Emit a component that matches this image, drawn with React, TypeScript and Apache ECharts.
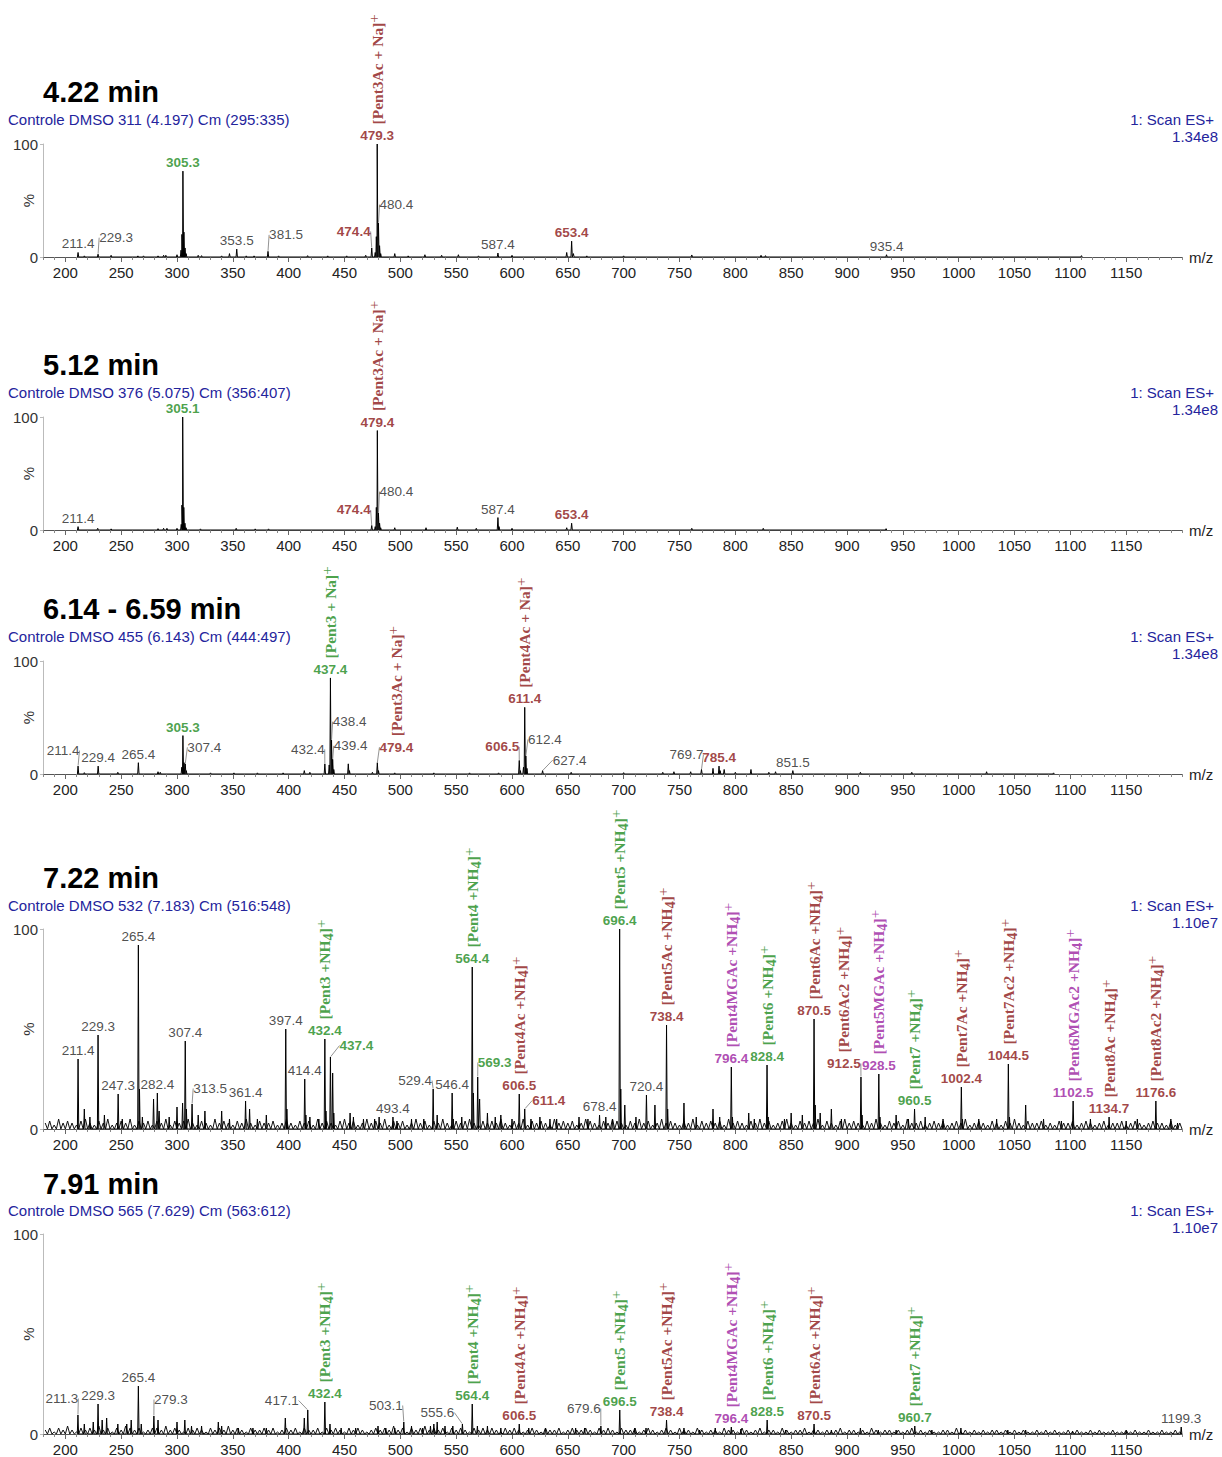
import React, { useEffect, useRef } from 'react';
import * as echarts from 'echarts';

const X_MIN = 180;
const X_MAX = 1200;
const X_LABELS = [200, 250, 300, 350, 400, 450, 500, 550, 600, 650, 700, 750, 800, 850, 900, 950, 1000, 1050, 1100, 1150];

const TITLES = ['4.22 min', '5.12 min', '6.14 - 6.59 min', '7.22 min', '7.91 min'];
const RUNS = [
  'Controle DMSO 311 (4.197) Cm (295:335)',
  'Controle DMSO 376 (5.075) Cm (356:407)',
  'Controle DMSO 455 (6.143) Cm (444:497)',
  'Controle DMSO 532 (7.183) Cm (516:548)',
  'Controle DMSO 565 (7.629) Cm (563:612)',
];
const SCAN = '1: Scan ES+';
const TICS = ['1.34e8', '1.34e8', '1.34e8', '1.10e7', '1.10e7'];

// [m/z, relative intensity %]
const peaks1: [number, number][] = [
  [211.4, 4], [217, 1], [229.3, 2.5], [241, 1.5], [265, 1], [270, 1], [283, 1], [288, 1.5], [290, 1.5], [300, 2],
  [303.6, 6], [304.4, 20], [305.3, 76], [306.2, 22], [307.2, 8], [308.2, 3], [319, 1.5], [322, 1.2], [340, 1],
  [347, 3], [353.5, 7], [362, 1], [369, 1], [381.5, 5], [391, 1], [417, 1.2], [435, 1], [452, 1], [469, 1.5],
  [474.4, 8], [477.5, 4], [478.5, 18], [479.3, 100], [480.4, 30], [481.4, 10], [482.4, 3], [495, 3], [507, 1],
  [522, 2], [537, 1.5], [552, 2], [570, 1], [587.4, 3.5], [600, 1.5], [649, 4], [653.4, 14], [655, 3], [667, 1],
  [700, 1], [761, 1.8], [823, 1.5], [827, 1.2], [935.4, 2], [1110, 1.2],
];
const peaks2: [number, number][] = [
  [211.4, 3], [229, 1.5], [241, 1], [283, 1.2], [288, 1.5], [291, 1.5], [300, 1.5], [303.8, 5], [304.4, 22],
  [305.1, 100], [306.1, 20], [307.1, 6], [308.1, 2], [321, 1], [353, 1.5], [370, 1], [382, 1], [474.4, 4],
  [477.5, 3], [478.5, 20], [479.4, 88], [480.4, 15], [481.4, 6], [482.4, 2], [495, 2], [523, 2], [551, 2.5],
  [568, 1.5], [587.4, 11], [588.4, 3], [600, 1.5], [649, 2], [653.4, 6], [761, 1.5], [825, 1.5], [935, 1.2],
];
const peaks3: [number, number][] = [
  [211.4, 7], [217, 1.2], [229.4, 7], [247, 1.5], [265.4, 10], [283, 2], [285, 1.5], [304.3, 6], [305.3, 34],
  [306.3, 10], [307.4, 9], [308.3, 3], [330, 1], [351, 1], [372, 1], [395, 1], [414, 3], [419, 1.5], [432.4, 9],
  [436.3, 8], [437.4, 85], [438.4, 30], [439.4, 13], [440.4, 4], [453.4, 9], [454.4, 3], [475, 1.5], [479.4, 10],
  [480.4, 3], [495, 1], [530, 1], [562, 1], [588, 1], [606.5, 12], [607.5, 3], [610.3, 6], [611.4, 59],
  [612.4, 16], [613.4, 5], [627.4, 3], [653, 1.5], [700, 1.2], [735, 1.5], [745, 2], [760, 2], [769.7, 4],
  [780, 5], [785.4, 7], [786.4, 3], [790, 4], [800, 1.5], [814, 4], [830, 1.5], [836, 2], [851.5, 3], [912, 1.5],
  [958, 1.5], [1025, 2], [1085, 1],
];
const peaks4: [number, number][] = [
  [211.4, 35], [217, 10], [222, 6], [229.3, 47], [235, 7], [247.3, 17.5], [251, 5], [265.4, 92], [266.4, 20],
  [269, 6], [279, 15], [282.4, 18], [284, 9], [293, 6], [300, 11], [305, 13], [307.4, 44], [308.4, 10],
  [313.5, 12.5], [319, 7], [325, 9], [340, 9], [347, 5], [361.4, 14], [365, 10], [372, 5], [380, 7], [397.4, 50],
  [398.4, 10], [414.4, 25], [415.4, 7], [419, 6], [427, 5], [432.4, 45], [433.4, 9], [437.4, 36], [439.4, 28],
  [440.4, 8], [455, 8], [458, 6], [467, 5], [477, 5], [481, 6], [493.4, 6], [497, 4], [510, 5], [521, 5],
  [529.4, 20], [533, 7], [546.4, 18], [547.4, 5], [555, 6], [564.4, 81], [565.4, 18], [569.3, 26], [571, 15],
  [578, 8], [585, 6], [590, 7], [600, 5], [606.5, 17.5], [611.4, 10], [617, 5], [625, 6], [634, 5], [640, 5],
  [660, 6], [668, 5], [678.4, 7], [684, 6], [690, 5], [696.4, 100], [697.4, 20], [701, 12], [711, 6], [720.4, 17],
  [728, 12], [738.4, 52], [739.4, 10], [754, 13], [765, 6], [780, 10], [786, 6], [796.4, 31], [797.4, 6], [812, 8],
  [817, 5], [828.4, 32], [829.4, 6], [844, 5], [850, 8], [860, 7], [870.5, 55], [871.5, 12], [876, 8], [886, 10],
  [895, 5], [912.5, 26], [913.5, 7], [928.5, 27.5], [929.5, 6], [944, 7], [955, 5], [960.5, 10], [970, 6],
  [986, 5], [1002.4, 21], [1003.4, 5], [1018, 5], [1034, 5], [1044.5, 32.5], [1045.5, 6], [1060, 12], [1076, 5],
  [1092, 4], [1102.5, 14], [1118, 5], [1134.7, 6], [1150, 4], [1160, 5], [1176.6, 14], [1190, 5], [1196, 3],
];
const peaks5: [number, number][] = [
  [211.3, 9.5], [217, 5], [225, 6], [229.3, 15], [233, 7], [237, 8], [247, 5], [255, 5], [259, 7], [265.4, 24],
  [268, 5], [279.3, 9], [283, 7], [300, 6], [307, 7], [313, 4], [322, 4], [337, 6], [340, 4], [355, 3], [368, 3],
  [380, 3], [397, 8], [414, 8], [417.1, 12], [432.4, 16], [437, 5], [447, 3], [460, 3], [480, 4], [487, 3],
  [495, 3], [503.1, 6], [510, 4], [520, 3], [527, 4], [530, 5], [533, 6], [540, 4], [547, 4], [555.6, 5],
  [564.4, 15], [569, 4], [578, 4], [590, 3], [606.5, 5], [615, 3], [630, 3], [657, 3], [665, 3], [679.6, 4],
  [696.5, 12], [710, 3], [720, 3], [738.4, 7], [754, 3], [768, 2], [782, 3], [796.4, 3.5], [805, 2.5], [828.5, 7],
  [845, 2], [870.5, 5], [886, 2], [912, 3], [928, 2], [944, 2], [960.7, 4], [976, 2], [1002, 3], [1044, 2],
  [1060, 2], [1102, 1.5], [1150, 1.5], [1199.3, 3.5],
];

// baseline grass (every 4 m/z from 182), % intensity
const NOISE_START = 182;
const NOISE_STEP = 4;
const noise4: number[] = [
  3, 4, 2, 5, 3, 4, 3, 2, 4, 5, 3, 2, 4, 3, 5, 2, 3, 4, 3, 5, 2, 4, 3, 4, 2,
  4, 3, 5, 2, 4, 3, 4, 5, 3, 2, 4, 3, 2, 5, 3, 4, 3, 2, 4, 3, 5, 3, 2, 4, 3,
  3, 4, 2, 3, 5, 3, 2, 4, 3, 4, 2, 5, 3, 4, 3, 2, 4, 5, 3, 4, 2, 3, 5, 3, 4,
  3, 5, 2, 4, 3, 4, 2, 3, 5, 3, 4, 2, 4, 3, 5, 3, 2, 4, 3, 4, 5, 3, 2, 4, 3,
  4, 3, 5, 3, 2, 4, 3, 5, 2, 4, 3, 4, 3, 2, 5, 3, 4, 3, 4, 2, 3, 5, 4, 3, 2,
  4, 3, 5, 4, 3, 2, 4, 3, 5, 3, 4, 2, 3, 5, 3, 4, 3, 2, 4, 3, 5, 2, 4, 3, 4,
  3, 4, 2, 5, 3, 4, 3, 2, 4, 3, 5, 3, 4, 2, 3, 4, 5, 3, 2, 4, 3, 4, 3, 5, 2,
  4, 3, 2, 4, 5, 3, 4, 3, 2, 4, 3, 5, 3, 2, 4, 3, 4, 2, 5, 3, 3, 4, 2, 3, 4,
  3, 4, 2, 3, 4, 3, 5, 2, 3, 4, 3, 2, 4, 3, 2, 4, 3, 5, 3, 2, 4, 3, 3, 4, 2,
  3, 2, 4, 3, 3, 4, 2, 3, 4, 3, 2, 3, 4, 2, 3, 3, 4, 2, 3, 4, 3, 2, 3, 4, 3,
  3, 2, 4, 2, 3,
];
const noise5: number[] = [
  2, 3, 1, 3, 2, 4, 2, 1, 3, 2, 3, 2, 4, 2, 3, 1, 3, 2, 4, 3, 2, 3, 1, 2, 3,
  3, 2, 4, 2, 3, 2, 1, 3, 2, 3, 2, 1, 3, 2, 3, 2, 4, 2, 3, 2, 1, 3, 2, 2, 3,
  2, 3, 1, 2, 3, 2, 3, 1, 3, 2, 2, 3, 1, 3, 2, 3, 2, 1, 3, 2, 3, 2, 1, 2, 3,
  2, 3, 2, 4, 2, 3, 1, 3, 2, 3, 4, 2, 3, 2, 3, 1, 3, 2, 3, 2, 1, 3, 2, 3, 2,
  3, 2, 1, 3, 2, 3, 2, 1, 2, 3, 2, 1, 3, 2, 2, 3, 1, 2, 3, 2, 2, 3, 2, 1, 3,
  2, 3, 2, 1, 3, 2, 2, 3, 1, 2, 3, 2, 1, 2, 3, 2, 1, 3, 2, 2, 1, 3, 2, 1, 2,
  2, 1, 3, 2, 2, 1, 3, 2, 1, 2, 3, 1, 2, 2, 1, 3, 2, 1, 2, 2, 3, 1, 2, 2, 1,
  2, 1, 2, 3, 1, 2, 2, 1, 2, 1, 3, 2, 1, 2, 2, 1, 2, 1, 2, 3, 1, 2, 1, 2, 1,
  1, 2, 2, 1, 3, 1, 2, 1, 2, 1, 2, 1, 2, 2, 1, 2, 1, 2, 1, 2, 1, 1, 2, 1, 2,
  1, 2, 1, 1, 2, 1, 2, 1, 1, 2, 1, 2, 1, 1, 2, 1, 1, 2, 1, 2, 1, 1, 2, 1, 1,
  2, 1, 1, 2, 1,
];

// [m/z, intensity, text, colour kind, annotation]
type Lab = [number, number, string, string, string?];
const labels1: Lab[] = [
  [211.4, 4, '211.4', 'k'], [229.3, 2.5, '229.3', 'k'], [305.3, 76, '305.3', 'g'], [353.5, 7, '353.5', 'k'],
  [381.5, 5, '381.5', 'k'], [474.4, 8, '474.4', 'r'], [479.3, 100, '479.3', 'r', 'Pent3Ac + Na'],
  [480.4, 30, '480.4', 'k'], [587.4, 3.5, '587.4', 'k'], [653.4, 14, '653.4', 'r'], [935.4, 2, '935.4', 'k'],
];
const labels2: Lab[] = [
  [211.4, 3, '211.4', 'k'], [305.1, 100, '305.1', 'g'], [474.4, 4, '474.4', 'r'],
  [479.4, 88, '479.4', 'r', 'Pent3Ac + Na'], [480.4, 15, '480.4', 'k'], [587.4, 11, '587.4', 'k'],
  [653.4, 6, '653.4', 'r'],
];
const labels3: Lab[] = [
  [211.4, 7, '211.4', 'k'], [229.4, 7, '229.4', 'k'], [265.4, 10, '265.4', 'k'], [305.3, 34, '305.3', 'g'],
  [307.4, 9, '307.4', 'k'], [432.4, 9, '432.4', 'k'], [437.4, 85, '437.4', 'g', 'Pent3 + Na'],
  [438.4, 30, '438.4', 'k'], [439.4, 13, '439.4', 'k'], [479.4, 10, '479.4', 'r', 'Pent3Ac + Na'],
  [606.5, 12, '606.5', 'r'], [611.4, 59, '611.4', 'r', 'Pent4Ac + Na'], [612.4, 16, '612.4', 'k'],
  [627.4, 3, '627.4', 'k'], [769.7, 4, '769.7', 'k'], [785.4, 7, '785.4', 'r'], [851.5, 3, '851.5', 'k'],
];
const labels4: Lab[] = [
  [211.4, 35, '211.4', 'k'], [229.3, 47, '229.3', 'k'], [247.3, 17.5, '247.3', 'k'], [265.4, 92, '265.4', 'k'],
  [282.4, 18, '282.4', 'k'], [307.4, 44, '307.4', 'k'], [313.5, 12.5, '313.5', 'k'], [361.4, 14, '361.4', 'k'],
  [397.4, 50, '397.4', 'k'], [414.4, 25, '414.4', 'k'], [432.4, 45, '432.4', 'g', 'Pent3 +NH4'],
  [437.4, 36, '437.4', 'g'], [493.4, 6, '493.4', 'k'], [529.4, 20, '529.4', 'k'], [546.4, 18, '546.4', 'k'],
  [564.4, 81, '564.4', 'g', 'Pent4 +NH4'], [569.3, 26, '569.3', 'g'], [606.5, 17.5, '606.5', 'r', 'Pent4Ac +NH4'],
  [611.4, 10, '611.4', 'r'], [678.4, 7, '678.4', 'k'], [696.4, 100, '696.4', 'g', 'Pent5 +NH4'],
  [720.4, 17, '720.4', 'k'], [738.4, 52, '738.4', 'r', 'Pent5Ac +NH4'], [796.4, 31, '796.4', 'p', 'Pent4MGAc +NH4'],
  [828.4, 32, '828.4', 'g', 'Pent6 +NH4'], [870.5, 55, '870.5', 'r', 'Pent6Ac +NH4'],
  [912.5, 26, '912.5', 'r', 'Pent6Ac2 +NH4'], [928.5, 27.5, '928.5', 'p', 'Pent5MGAc +NH4'],
  [960.5, 10, '960.5', 'g', 'Pent7 +NH4'], [1002.4, 21, '1002.4', 'r', 'Pent7Ac +NH4'],
  [1044.5, 32.5, '1044.5', 'r', 'Pent7Ac2 +NH4'], [1102.5, 14, '1102.5', 'p', 'Pent6MGAc2 +NH4'],
  [1134.7, 6, '1134.7', 'r', 'Pent8Ac +NH4'], [1176.6, 14, '1176.6', 'r', 'Pent8Ac2 +NH4'],
];
const labels5: Lab[] = [
  [211.3, 9.5, '211.3', 'k'], [229.3, 15, '229.3', 'k'], [265.4, 24, '265.4', 'k'], [279.3, 9, '279.3', 'k'],
  [417.1, 12, '417.1', 'k'], [432.4, 16, '432.4', 'g', 'Pent3 +NH4'], [503.1, 6, '503.1', 'k'],
  [555.6, 5, '555.6', 'k'], [564.4, 15, '564.4', 'g', 'Pent4 +NH4'], [606.5, 5, '606.5', 'r', 'Pent4Ac +NH4'],
  [679.6, 4, '679.6', 'k'], [696.5, 12, '696.5', 'g', 'Pent5 +NH4'], [738.4, 7, '738.4', 'r', 'Pent5Ac +NH4'],
  [796.4, 3.5, '796.4', 'p', 'Pent4MGAc +NH4'], [828.5, 7, '828.5', 'g', 'Pent6 +NH4'],
  [870.5, 5, '870.5', 'r', 'Pent6Ac +NH4'], [960.7, 4, '960.7', 'g', 'Pent7 +NH4'], [1199.3, 3.5, '1199.3', 'k'],
];

// label displacements (px, screen) for labels drawn beside their peak with a leader line
const offsets1: Record<string, [number, number]> = { '229.3': [18, -8], '381.5': [18, -8], '474.4': [-18, -8], '480.4': [18, -10] };
const offsets2: Record<string, [number, number]> = { '474.4': [-18, -7], '480.4': [18, -13] };
const offsets3: Record<string, [number, number]> = {
  '211.4': [-15, -7], '307.4': [19, -8], '432.4': [-17, -6], '438.4': [18, -10], '439.4': [18, -5],
  '479.4': [19, -7], '606.5': [-17, -5], '612.4': [19, -8], '627.4': [27, -2], '769.7': [-15, -6],
};
const offsets4: Record<string, [number, number]> = {
  '313.5': [18, -7], '437.4': [26, -3], '529.4': [-18, 0], '569.3': [17, -6], '611.4': [24, 0], '912.5': [-17, -5],
};
const offsets5: Record<string, [number, number]> = {
  '211.3': [-16, -8], '279.3': [17, -8], '417.1': [-26, -1], '503.1': [-18, -8], '555.6': [-25, -3], '679.6': [-17, -9],
};

const PEAKS = [peaks1, peaks2, peaks3, peaks4, peaks5];
const NOISE: (number[] | null)[] = [null, null, null, noise4, noise5];
const LABELS = [labels1, labels2, labels3, labels4, labels5];
const OFFSETS = [offsets1, offsets2, offsets3, offsets4, offsets5];

const LAYOUT = [
  { top: 144, height: 113, titleY: 92, subY: 119 },
  { top: 417, height: 113, titleY: 365, subY: 392 },
  { top: 661, height: 113, titleY: 609, subY: 636 },
  { top: 929, height: 200, titleY: 878, subY: 905 },
  { top: 1234, height: 200, titleY: 1184, subY: 1210 },
];

const SANS = "'Liberation Sans', Arial, sans-serif";
const SERIF = "'Liberation Serif', 'Times New Roman', serif";
const COLORS: Record<string, string> = { k: '#222222', g: '#1c8a1c', r: '#8a1515', p: '#9a20a0' };
const BLUE = '#24249c';

function annText(ann: string): string {
  const m = ann.match(/^(.*)NH4$/);
  if (m) return `{n|[${m[1]}NH}{u|4}{n|]}{s|+}`;
  return `{n|[${ann}]}{s|+}`;
}

function annRich(color: string) {
  return {
    n: { fontFamily: SERIF, fontWeight: 'bold', fontSize: 15.5, color, lineHeight: 22, verticalAlign: 'middle' },
    u: { fontFamily: SERIF, fontWeight: 'bold', fontSize: 14.5, color, lineHeight: 16, verticalAlign: 'bottom' },
    s: { fontFamily: SERIF, fontSize: 15, color, lineHeight: 10, verticalAlign: 'top' },
  };
}

function buildOption() {
  const grid: any[] = [];
  const xAxis: any[] = [];
  const yAxis: any[] = [];
  const series: any[] = [];
  const graphic: any[] = [];

  LAYOUT.forEach((l, i) => {
    grid.push({ left: 43, right: 40, top: l.top, height: l.height, containLabel: false, outerBoundsMode: 'none' });
    xAxis.push({
      gridIndex: i, type: 'value', min: X_MIN, max: X_MAX, interval: 10,
      axisLine: { show: true, onZero: false, lineStyle: { color: '#555', width: 1 } },
      axisTick: { show: true, length: 3, lineStyle: { color: '#888' } },
      axisLabel: {
        formatter: (v: number) => (X_LABELS.indexOf(v) >= 0 ? String(v) : ''),
        fontSize: 15, color: '#222', margin: 8, fontFamily: SANS,
      },
      splitLine: { show: false },
      name: 'm/z', nameLocation: 'end', nameGap: 7, nameMoveOverlap: false,
      nameTextStyle: { fontSize: 15, color: '#222', fontFamily: SANS },
    });
    xAxis.push({
      gridIndex: i, type: 'value', min: X_MIN, max: X_MAX, position: 'bottom',
      axisLine: { show: false },
      axisTick: { show: true, length: 5, customValues: X_LABELS, lineStyle: { color: '#666' } },
      axisLabel: { show: false },
      splitLine: { show: false },
    });
    yAxis.push({
      gridIndex: i, type: 'value', min: 0, max: 100, interval: 100,
      axisLine: { show: true, lineStyle: { color: '#bbbbbb' } },
      axisTick: { show: true, length: 3, lineStyle: { color: '#bbbbbb' } },
      axisLabel: { fontSize: 15, color: '#333', margin: 5, fontFamily: SANS },
      splitLine: { show: false },
      name: '%', nameLocation: 'middle', nameGap: 7, nameRotate: 90, nameMoveOverlap: false,
      nameTextStyle: { fontSize: 15, color: '#333', fontFamily: SANS },
    });

    const noise = NOISE[i];
    if (noise) {
      const pts: [number, number][] = [];
      noise.forEach((h, k) => {
        const x = NOISE_START + k * NOISE_STEP;
        pts.push([x, h]);
        pts.push([x + NOISE_STEP / 2, 0]);
      });
      series.push({
        type: 'line', xAxisIndex: 2 * i, yAxisIndex: i, data: pts, symbol: 'none', silent: true,
        lineStyle: { color: '#111', width: 1 }, z: 2,
      });
    }

    const ppts: [number, number][] = [];
    PEAKS[i].forEach(([mz, h]) => {
      ppts.push([mz - 0.6, 0]);
      ppts.push([mz, h]);
      ppts.push([mz + 0.6, 0]);
    });
    series.push({
      type: 'line', xAxisIndex: 2 * i, yAxisIndex: i, data: ppts, symbol: 'none', silent: true,
      lineStyle: { color: '#000', width: 1 }, z: 3,
    });

    const labs = LABELS[i];
    const offs = OFFSETS[i];

    series.push({
      type: 'scatter', xAxisIndex: 2 * i, yAxisIndex: i, silent: true, z: 5,
      symbolSize: 1, itemStyle: { color: 'rgba(0,0,0,0)' },
      label: { show: true, position: 'top', distance: 1, formatter: (p: any) => p.name },
      labelLine: { show: false, lineStyle: { color: '#777', width: 0.8 } },
      labelLayout: (p: any) => {
        const o = offs[labs[p.dataIndex][2]];
        return o ? { dx: o[0], dy: o[1] } : {};
      },
      data: labs.map((lb) => ({
        name: lb[2],
        value: [lb[0], lb[1]],
        label: {
          color: COLORS[lb[3]], fontSize: 13.5, fontFamily: SANS,
          fontWeight: lb[3] === 'k' ? 'normal' : 'bold',
        },
        labelLine: offs[lb[2]] ? { show: true, lineStyle: { color: '#777', width: 0.8 } } : { show: false },
      })),
    });

    const anns = labs.filter((lb) => lb[4]);
    if (anns.length) {
      series.push({
        type: 'scatter', xAxisIndex: 2 * i, yAxisIndex: i, silent: true, z: 6,
        symbolSize: 1, itemStyle: { color: 'rgba(0,0,0,0)' },
        label: {
          show: true, position: 'top', distance: 19, rotate: 90, align: 'left', verticalAlign: 'middle',
          formatter: (p: any) => p.name,
        },
        // rotated labels shift in their own (rotated) frame: screen (dx, dy) -> local (-dy, dx)
        labelLayout: (p: any) => {
          const o = offs[anns[p.dataIndex][2]];
          return o ? { dx: -o[1], dy: o[0] } : {};
        },
        data: anns.map((lb) => ({
          name: annText(lb[4] as string),
          value: [lb[0], lb[1]],
          label: { rich: annRich(COLORS[lb[3]]) },
        })),
      });
    }

    graphic.push({
      type: 'text', x: 43, y: l.titleY, silent: true,
      style: { text: TITLES[i], fill: '#000', fontSize: 29, fontWeight: 'bold', fontFamily: SANS, align: 'left', verticalAlign: 'middle' },
    });
    graphic.push({
      type: 'text', x: 8, y: l.subY, silent: true,
      style: { text: RUNS[i], fill: BLUE, fontSize: 15, fontFamily: SANS, align: 'left', verticalAlign: 'middle' },
    });
    graphic.push({
      type: 'text', x: 1214, y: l.subY, silent: true,
      style: { text: SCAN, fill: BLUE, fontSize: 15, fontFamily: SANS, align: 'right', verticalAlign: 'middle' },
    });
    graphic.push({
      type: 'text', x: 1218, y: l.subY + 17, silent: true,
      style: { text: TICS[i], fill: BLUE, fontSize: 15, fontFamily: SANS, align: 'right', verticalAlign: 'middle' },
    });
  });

  return {
    animation: false,
    backgroundColor: '#ffffff',
    textStyle: { fontFamily: SANS },
    grid, xAxis, yAxis, series, graphic,
  };
}

export default function App() {
  const ref = useRef<HTMLDivElement>(null);
  useEffect(() => {
    if (!ref.current) return;
    const chart = echarts.init(ref.current, null, { renderer: 'svg' });
    chart.setOption(buildOption() as any);
    return () => chart.dispose();
  }, []);
  return <div ref={ref} style={{ position: 'absolute', left: 0, top: 0, width: 1222, height: 1457 }} />;
}
